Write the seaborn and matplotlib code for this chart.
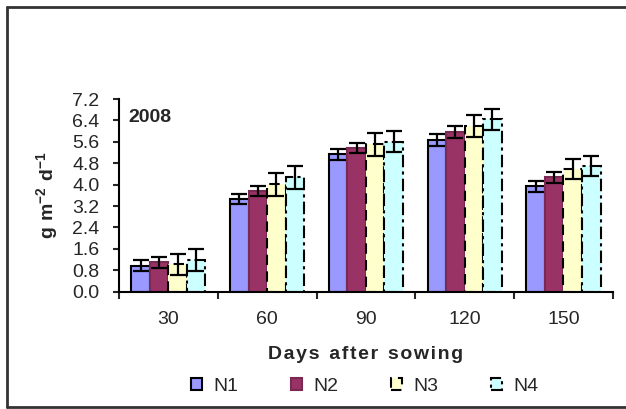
import matplotlib
matplotlib.use("Agg")
import matplotlib.pyplot as plt
from matplotlib.lines import Line2D
from matplotlib.patches import Patch
import seaborn as sns
import pandas as pd
import numpy as np

# Crop growth rate by nitrogen level, 2008 season
days = ["30", "60", "90", "120", "150"]
levels = ["N1", "N2", "N3", "N4"]
n1 = [0.97, 3.46, 5.13, 5.67, 3.94]
n2 = [1.10, 3.76, 5.38, 5.96, 4.27]
n3 = [1.02, 4.01, 5.51, 6.20, 4.58]
n4 = [1.18, 4.27, 5.61, 6.44, 4.70]
n1_err = [0.20, 0.20, 0.22, 0.22, 0.21]
n2_err = [0.20, 0.18, 0.19, 0.22, 0.19]
n3_err = [0.38, 0.43, 0.42, 0.42, 0.38]
n4_err = [0.40, 0.42, 0.39, 0.39, 0.37]
yticks = [0.0, 0.8, 1.6, 2.4, 3.2, 4.0, 4.8, 5.6, 6.4, 7.2]

values = {"N1": n1, "N2": n2, "N3": n3, "N4": n4}
errors = {"N1": n1_err, "N2": n2_err, "N3": n3_err, "N4": n4_err}

df = pd.DataFrame(
    [(d, lvl, values[lvl][i]) for lvl in levels for i, d in enumerate(days)],
    columns=["day", "level", "rate"],
)

sns.set_style("white")
plt.rcParams["font.family"] = ["Liberation Sans", "DejaVu Sans"]
plt.rcParams["mathtext.fontset"] = "custom"
plt.rcParams["mathtext.rm"] = "Liberation Sans"
plt.rcParams["mathtext.bf"] = "Liberation Sans:bold"

FS = 14
fills = {"N1": "#9999FF", "N2": "#993366", "N3": "#FFFFCC", "N4": "#CCFFFF"}
edges = {"N1": "black", "N2": "#7a2a52", "N3": "black", "N4": "black"}
styles = {"N1": "-", "N2": "-", "N3": (0, (5, 3)), "N4": (0, (6, 2, 1.5, 2))}

fig = plt.figure(figsize=(6.26, 4.09), dpi=100)
ax = fig.add_axes([0.190, 0.2868, 0.789, 0.471])

sns.barplot(data=df, x="day", y="rate", hue="level", order=days,
            hue_order=levels, palette=fills, width=0.75, errorbar=None,
            saturation=1, legend=False, ax=ax)

for lvl, cont in zip(levels, ax.containers):
    xs, hs = [], []
    for bar in cont:
        bar.set_edgecolor(edges[lvl])
        bar.set_linewidth(1.5)
        bar.set_linestyle(styles[lvl])
        xs.append(bar.get_x() + bar.get_width() / 2)
        hs.append(bar.get_height())
    ax.errorbar(xs, hs, yerr=errors[lvl], fmt="none", ecolor="black",
                elinewidth=1.6, capsize=5.5, capthick=1.6, zorder=5)

ax.set_ylim(0, 7.2)
ax.set_xlim(-0.5, 4.5)
ax.set_yticks(yticks)
ax.set_yticklabels([f"{v:.1f}" for v in yticks], fontsize=FS)
ax.set_xticks(range(len(days)))
ax.set_xticklabels(days, fontsize=FS)
ax.set_xticks(np.arange(-0.5, 5.0, 1.0), minor=True)
ax.tick_params(axis="x", which="major", length=0, pad=14)
ax.tick_params(axis="x", which="minor", length=5, width=1.5, direction="out",
               bottom=True)
ax.tick_params(axis="y", length=4, width=1.5, direction="out", left=True, pad=10)

for side in ["top", "right"]:
    ax.spines[side].set_visible(False)
for side in ["left", "bottom"]:
    ax.spines[side].set_color("black")
    ax.spines[side].set_linewidth(1.5)

ax.set_xlabel("D a y s   a f t e r   s o w i n g".replace("   ", "\u2002").replace(" ", "\u200a"),
              fontsize=FS, fontweight="bold", labelpad=13)
ax.set_ylabel(r"$\mathbf{g\ m^{-2}\ d^{-1}}$", fontsize=FS, labelpad=9)
ax.text(0.02, 0.95, "2008", transform=ax.transAxes, fontsize=FS,
        fontweight="bold", va="top", ha="left")

handles = [Patch(facecolor=fills[l], edgecolor=edges[l], linewidth=1.5,
                 linestyle=styles[l]) for l in levels]
fig.legend(handles, levels, loc="center", bbox_to_anchor=(0.583, 0.055),
           ncol=4, frameon=False, fontsize=FS, handlelength=0.55,
           handleheight=0.55, columnspacing=2.7, handletextpad=0.6)

# outer frame
for xy in [([7 / 626, 7 / 626], [0.005, 1 - 7 / 409]),
           ([7 / 626, 1.05], [1 - 7 / 409, 1 - 7 / 409]),
           ([7 / 626, 1.05], [0.005, 0.005])]:
    fig.add_artist(Line2D(xy[0], xy[1], color="#333333", lw=2,
                          transform=fig.transFigure))

fig.savefig("out.png", dpi=100, facecolor="white")
